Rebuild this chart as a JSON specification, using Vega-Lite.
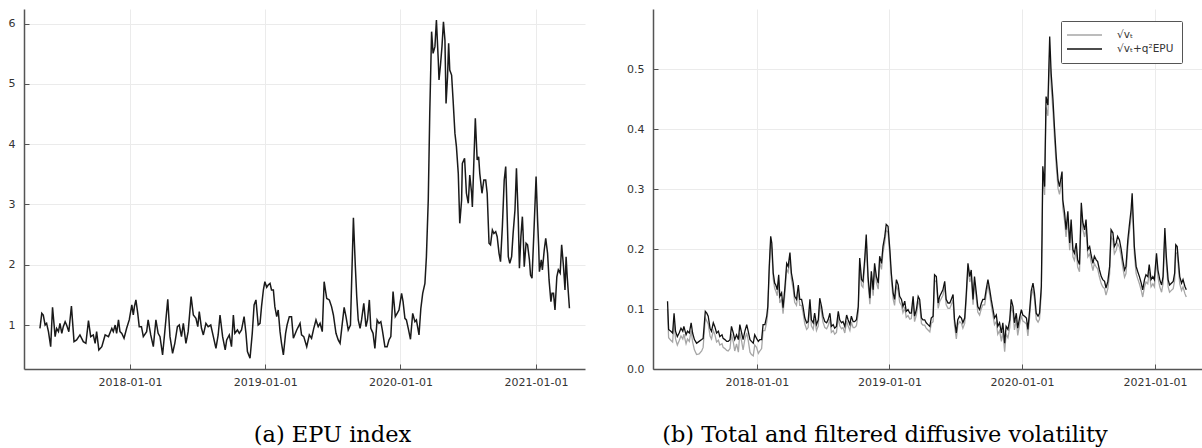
{
  "$schema": "https://vega.github.io/schema/vega-lite/v6.json",
  "background": "white",
  "padding": {"left": 8, "top": 9, "right": 0, "bottom": 0},
  "spacing": 41,
  "config": {
    "view": {"stroke": null},
    "axis": {
      "labelFont": "DejaVu Sans", "labelFontSize": 11, "labelColor": "#333333",
      "domainColor": "#555555", "domainWidth": 1.5,
      "gridColor": "#ebebeb", "gridWidth": 1,
      "tickColor": "#555555", "tickSize": -5, "tickWidth": 1,
      "title": null
    },
    "axisX": {"labelPadding": 12},
    "axisY": {"labelPadding": 14},
    "title": {"font": "DejaVu Serif", "fontSize": 22.5, "fontWeight": "normal", "color": "#000000", "orient": "bottom", "anchor": "middle", "offset": 37}
  },
  "hconcat": [
    {
      "width": 561, "height": 360,
      "title": {"text": "(a) EPU index", "dx": 28},
      "data": {"format": {"parse": {"d": "date:'%Y-%j'"}}, "values": [
        {"d":"2017-123","v":0.945},{"d":"2017-128","v":1.194},{"d":"2017-132","v":1.166},{"d":"2017-137","v":1.0},{"d":"2017-141","v":1.028},{"d":"2017-146","v":0.89},{"d":"2017-152","v":0.641},{"d":"2017-157","v":1.294},{"d":"2017-164","v":0.807},{"d":"2017-168","v":0.945},{"d":"2017-173","v":0.89},{"d":"2017-177","v":1.028},{"d":"2017-182","v":0.862},{"d":"2017-186","v":0.973},{"d":"2017-191","v":1.056},{"d":"2017-195","v":1.0},{"d":"2017-201","v":0.89},{"d":"2017-208","v":1.316},{"d":"2017-215","v":0.724},{"d":"2017-222","v":0.752},{"d":"2017-231","v":0.835},{"d":"2017-240","v":0.724},{"d":"2017-247","v":0.696},{"d":"2017-254","v":1.072},{"d":"2017-260","v":0.807},{"d":"2017-267","v":0.835},{"d":"2017-272","v":0.696},{"d":"2017-276","v":0.89},{"d":"2017-282","v":0.586},{"d":"2017-290","v":0.641},{"d":"2017-299","v":0.835},{"d":"2017-308","v":0.807},{"d":"2017-317","v":0.945},{"d":"2017-321","v":0.89},{"d":"2017-326","v":1.0},{"d":"2017-330","v":0.862},{"d":"2017-335","v":1.084},{"d":"2017-339","v":0.89},{"d":"2017-344","v":0.862},{"d":"2017-350","v":0.78},{"d":"2017-357","v":0.945},{"d":"2017-364","v":1.084},
        {"d":"2018-006","v":1.333},{"d":"2018-010","v":1.166},{"d":"2018-013","v":1.305},{"d":"2018-017","v":1.416},{"d":"2018-022","v":1.194},{"d":"2018-026","v":0.973},{"d":"2018-032","v":0.973},{"d":"2018-037","v":0.807},{"d":"2018-046","v":0.89},{"d":"2018-050","v":1.084},{"d":"2018-057","v":0.835},{"d":"2018-064","v":0.641},{"d":"2018-071","v":1.084},{"d":"2018-077","v":0.862},{"d":"2018-082","v":0.807},{"d":"2018-089","v":0.503},{"d":"2018-095","v":0.89},{"d":"2018-103","v":1.427},{"d":"2018-109","v":0.807},{"d":"2018-116","v":0.531},{"d":"2018-122","v":0.696},{"d":"2018-129","v":0.973},{"d":"2018-134","v":1.0},{"d":"2018-140","v":0.807},{"d":"2018-145","v":1.028},{"d":"2018-152","v":0.696},{"d":"2018-158","v":0.89},{"d":"2018-166","v":1.471},{"d":"2018-172","v":1.166},{"d":"2018-179","v":1.111},{"d":"2018-184","v":0.973},{"d":"2018-188","v":1.222},{"d":"2018-194","v":0.945},{"d":"2018-199","v":0.835},{"d":"2018-206","v":1.028},{"d":"2018-212","v":0.973},{"d":"2018-219","v":1.0},{"d":"2018-226","v":0.807},{"d":"2018-233","v":0.613},{"d":"2018-239","v":0.835},{"d":"2018-244","v":1.166},{"d":"2018-251","v":0.807},{"d":"2018-258","v":0.586},{"d":"2018-262","v":0.752},{"d":"2018-269","v":0.835},{"d":"2018-275","v":0.641},{"d":"2018-280","v":1.166},{"d":"2018-284","v":0.862},{"d":"2018-291","v":0.918},{"d":"2018-296","v":0.862},{"d":"2018-302","v":0.918},{"d":"2018-309","v":1.139},{"d":"2018-314","v":0.862},{"d":"2018-318","v":0.558},{"d":"2018-325","v":0.448},{"d":"2018-331","v":0.862},{"d":"2018-336","v":1.333},{"d":"2018-341","v":1.416},{"d":"2018-347","v":1.0},{"d":"2018-352","v":1.028},{"d":"2018-356","v":1.305},{"d":"2018-361","v":1.581},{"d":"2018-365","v":1.719},
        {"d":"2019-005","v":1.626},{"d":"2019-009","v":1.664},{"d":"2019-014","v":1.692},{"d":"2019-018","v":1.581},{"d":"2019-023","v":1.581},{"d":"2019-027","v":1.305},{"d":"2019-032","v":1.139},{"d":"2019-036","v":1.249},{"d":"2019-041","v":0.89},{"d":"2019-045","v":0.696},{"d":"2019-050","v":0.503},{"d":"2019-056","v":0.862},{"d":"2019-060","v":1.0},{"d":"2019-066","v":1.139},{"d":"2019-072","v":1.139},{"d":"2019-077","v":0.78},{"d":"2019-086","v":0.918},{"d":"2019-095","v":1.028},{"d":"2019-099","v":0.835},{"d":"2019-105","v":0.807},{"d":"2019-113","v":0.641},{"d":"2019-120","v":0.835},{"d":"2019-126","v":0.78},{"d":"2019-132","v":0.945},{"d":"2019-138","v":1.084},{"d":"2019-144","v":0.973},{"d":"2019-149","v":1.028},{"d":"2019-155","v":0.89},{"d":"2019-160","v":1.719},{"d":"2019-167","v":1.44},{"d":"2019-174","v":1.416},{"d":"2019-180","v":1.305},{"d":"2019-185","v":1.166},{"d":"2019-192","v":0.862},{"d":"2019-198","v":0.752},{"d":"2019-203","v":0.696},{"d":"2019-209","v":1.028},{"d":"2019-214","v":1.294},{"d":"2019-219","v":1.139},{"d":"2019-225","v":0.918},{"d":"2019-231","v":1.0},{"d":"2019-239","v":2.78},{"d":"2019-244","v":2.0},{"d":"2019-248","v":1.47},{"d":"2019-252","v":1.084},{"d":"2019-257","v":0.945},{"d":"2019-261","v":1.084},{"d":"2019-267","v":1.36},{"d":"2019-273","v":0.973},{"d":"2019-277","v":1.084},{"d":"2019-282","v":1.416},{"d":"2019-286","v":0.945},{"d":"2019-292","v":0.862},{"d":"2019-297","v":0.613},{"d":"2019-303","v":1.084},{"d":"2019-308","v":1.028},{"d":"2019-313","v":1.056},{"d":"2019-317","v":0.918},{"d":"2019-324","v":0.641},{"d":"2019-330","v":0.641},{"d":"2019-335","v":0.752},{"d":"2019-340","v":0.807},{"d":"2019-346","v":1.554},{"d":"2019-352","v":1.139},{"d":"2019-357","v":1.194},{"d":"2019-362","v":1.249},
        {"d":"2020-004","v":1.526},{"d":"2020-008","v":1.388},{"d":"2020-013","v":1.111},{"d":"2020-017","v":1.084},{"d":"2020-022","v":0.945},{"d":"2020-028","v":0.763},{"d":"2020-034","v":1.194},{"d":"2020-040","v":1.056},{"d":"2020-044","v":1.084},{"d":"2020-051","v":0.835},{"d":"2020-056","v":1.277},{"d":"2020-061","v":1.526},{"d":"2020-067","v":1.692},{"d":"2020-071","v":2.134},{"d":"2020-076","v":3.074},{"d":"2020-080","v":4.5},{"d":"2020-085","v":5.868},{"d":"2020-089","v":5.508},{"d":"2020-094","v":5.619},{"d":"2020-098","v":6.061},{"d":"2020-103","v":5.397},{"d":"2020-105","v":5.065},{"d":"2020-109","v":5.315},{"d":"2020-113","v":5.619},{"d":"2020-117","v":6.033},{"d":"2020-121","v":5.729},{"d":"2020-124","v":4.678},{"d":"2020-128","v":5.12},{"d":"2020-131","v":5.674},{"d":"2020-134","v":5.231},{"d":"2020-139","v":5.148},{"d":"2020-143","v":4.733},{"d":"2020-148","v":4.18},{"d":"2020-152","v":3.96},{"d":"2020-157","v":3.517},{"d":"2020-161","v":2.687},{"d":"2020-166","v":3.074},{"d":"2020-168","v":3.683},{"d":"2020-174","v":3.766},{"d":"2020-179","v":3.186},{"d":"2020-184","v":3.02},{"d":"2020-188","v":3.49},{"d":"2020-193","v":3.186},{"d":"2020-195","v":2.96},{"d":"2020-199","v":3.7},{"d":"2020-203","v":4.43},{"d":"2020-208","v":3.738},{"d":"2020-212","v":3.793},{"d":"2020-215","v":3.517},{"d":"2020-221","v":3.186},{"d":"2020-226","v":3.407},{"d":"2020-231","v":3.407},{"d":"2020-235","v":3.186},{"d":"2020-240","v":2.356},{"d":"2020-244","v":2.33},{"d":"2020-249","v":2.577},{"d":"2020-253","v":2.52},{"d":"2020-258","v":2.55},{"d":"2020-262","v":2.466},{"d":"2020-267","v":2.19},{"d":"2020-271","v":2.052},{"d":"2020-276","v":2.632},{"d":"2020-281","v":3.407},{"d":"2020-285","v":3.628},{"d":"2020-287","v":3.24},{"d":"2020-292","v":2.134},{"d":"2020-296","v":2.024},{"d":"2020-301","v":2.134},{"d":"2020-305","v":2.52},{"d":"2020-310","v":2.909},{"d":"2020-314","v":3.6},{"d":"2020-319","v":2.743},{"d":"2020-322","v":1.941},{"d":"2020-326","v":2.466},{"d":"2020-330","v":2.798},{"d":"2020-332","v":2.52},{"d":"2020-335","v":1.969},{"d":"2020-340","v":2.356},{"d":"2020-344","v":2.33},{"d":"2020-349","v":2.08},{"d":"2020-352","v":1.83},{"d":"2020-356","v":1.775},{"d":"2020-361","v":2.52},
        {"d":"2021-001","v":3.462},{"d":"2021-005","v":2.743},{"d":"2021-008","v":2.3},{"d":"2021-010","v":1.886},{"d":"2021-015","v":2.08},{"d":"2021-018","v":1.914},{"d":"2021-023","v":2.245},{"d":"2021-027","v":2.44},{"d":"2021-032","v":2.19},{"d":"2021-036","v":1.748},{"d":"2021-041","v":1.388},{"d":"2021-044","v":1.526},{"d":"2021-048","v":1.526},{"d":"2021-052","v":1.25},{"d":"2021-057","v":1.8},{"d":"2021-061","v":1.914},{"d":"2021-066","v":1.86},{"d":"2021-070","v":2.33},{"d":"2021-075","v":1.969},{"d":"2021-079","v":1.58},{"d":"2021-082","v":2.134},{"d":"2021-085","v":1.8},{"d":"2021-091","v":1.277}
      ]},
      "mark": {"type": "line", "color": "#1a1a1a", "strokeWidth": 1.5},
      "encoding": {
        "x": {"field": "d", "type": "temporal",
              "scale": {"domain": [{"year": 2017, "month": 3, "date": 21}, {"year": 2021, "month": 5, "date": 13}], "nice": false},
              "axis": {"format": "%Y-%m-%d", "values": [{"year": 2018, "month": 1, "date": 1}, {"year": 2019, "month": 1, "date": 1}, {"year": 2020, "month": 1, "date": 1}, {"year": 2021, "month": 1, "date": 1}], "labelAngle": 0}},
        "y": {"field": "v", "type": "quantitative",
              "scale": {"domain": [0.27, 6.244], "nice": false, "zero": false},
              "axis": {"values": [1, 2, 3, 4, 5, 6], "format": "d"}}
      }
    },
    {
      "width": 550, "height": 360,
      "title": {"text": "(b) Total and filtered diffusive volatility", "dx": -43},
      "data": {"format": {"parse": {"d": "date:'%Y-%j'"}}, "values": [
        {"d":"2017-120","s":0.100,"t":0.113},{"d":"2017-123","s":0.052,"t":0.066},{"d":"2017-129","s":0.048,"t":0.063},{"d":"2017-134","s":0.045,"t":0.060},{"d":"2017-138","s":0.080,"t":0.093},{"d":"2017-142","s":0.050,"t":0.063},{"d":"2017-147","s":0.040,"t":0.054},{"d":"2017-152","s":0.047,"t":0.060},{"d":"2017-157","s":0.055,"t":0.068},{"d":"2017-162","s":0.050,"t":0.063},{"d":"2017-165","s":0.058,"t":0.071},{"d":"2017-171","s":0.042,"t":0.057},{"d":"2017-175","s":0.050,"t":0.063},{"d":"2017-180","s":0.046,"t":0.060},{"d":"2017-185","s":0.064,"t":0.077},{"d":"2017-189","s":0.045,"t":0.060},{"d":"2017-194","s":0.032,"t":0.049},{"d":"2017-200","s":0.024,"t":0.043},{"d":"2017-207","s":0.025,"t":0.046},{"d":"2017-214","s":0.030,"t":0.049},{"d":"2017-218","s":0.036,"t":0.051},{"d":"2017-224","s":0.085,"t":0.096},{"d":"2017-228","s":0.080,"t":0.093},{"d":"2017-232","s":0.075,"t":0.088},{"d":"2017-237","s":0.055,"t":0.068},{"d":"2017-241","s":0.050,"t":0.063},{"d":"2017-246","s":0.064,"t":0.077},{"d":"2017-250","s":0.058,"t":0.071},{"d":"2017-255","s":0.045,"t":0.060},{"d":"2017-260","s":0.048,"t":0.063},{"d":"2017-264","s":0.040,"t":0.054},{"d":"2017-270","s":0.042,"t":0.057},{"d":"2017-273","s":0.036,"t":0.051},{"d":"2017-278","s":0.034,"t":0.049},{"d":"2017-283","s":0.031,"t":0.046},{"d":"2017-287","s":0.030,"t":0.046},{"d":"2017-292","s":0.034,"t":0.049},{"d":"2017-296","s":0.058,"t":0.071},{"d":"2017-301","s":0.045,"t":0.060},{"d":"2017-305","s":0.030,"t":0.049},{"d":"2017-310","s":0.042,"t":0.057},{"d":"2017-315","s":0.028,"t":0.049},{"d":"2017-319","s":0.060,"t":0.074},{"d":"2017-324","s":0.046,"t":0.060},{"d":"2017-328","s":0.032,"t":0.049},{"d":"2017-333","s":0.050,"t":0.063},{"d":"2017-338","s":0.060,"t":0.074},{"d":"2017-342","s":0.048,"t":0.063},{"d":"2017-347","s":0.028,"t":0.049},{"d":"2017-351","s":0.024,"t":0.046},{"d":"2017-356","s":0.022,"t":0.043},{"d":"2017-360","s":0.040,"t":0.057},{"d":"2017-365","s":0.036,"t":0.051},
        {"d":"2018-005","s":0.026,"t":0.046},{"d":"2018-009","s":0.030,"t":0.049},{"d":"2018-014","s":0.034,"t":0.049},{"d":"2018-018","s":0.064,"t":0.074},{"d":"2018-023","s":0.064,"t":0.074},{"d":"2018-028","s":0.078,"t":0.088},{"d":"2018-031","s":0.095,"t":0.104},{"d":"2018-035","s":0.162,"t":0.171},{"d":"2018-039","s":0.212,"t":0.221},{"d":"2018-042","s":0.200,"t":0.210},{"d":"2018-046","s":0.150,"t":0.160},{"d":"2018-050","s":0.134,"t":0.143},{"d":"2018-053","s":0.130,"t":0.140},{"d":"2018-057","s":0.122,"t":0.132},{"d":"2018-061","s":0.148,"t":0.157},{"d":"2018-064","s":0.110,"t":0.121},{"d":"2018-069","s":0.117,"t":0.127},{"d":"2018-073","s":0.092,"t":0.102},{"d":"2018-078","s":0.125,"t":0.135},{"d":"2018-083","s":0.166,"t":0.176},{"d":"2018-087","s":0.161,"t":0.171},{"d":"2018-092","s":0.183,"t":0.194},{"d":"2018-096","s":0.150,"t":0.160},{"d":"2018-101","s":0.133,"t":0.143},{"d":"2018-105","s":0.111,"t":0.121},{"d":"2018-110","s":0.106,"t":0.116},{"d":"2018-115","s":0.130,"t":0.140},{"d":"2018-119","s":0.106,"t":0.116},{"d":"2018-124","s":0.106,"t":0.116},{"d":"2018-128","s":0.094,"t":0.104},{"d":"2018-133","s":0.075,"t":0.085},{"d":"2018-138","s":0.066,"t":0.077},{"d":"2018-142","s":0.069,"t":0.079},{"d":"2018-147","s":0.106,"t":0.116},{"d":"2018-151","s":0.072,"t":0.082},{"d":"2018-156","s":0.066,"t":0.077},{"d":"2018-160","s":0.083,"t":0.093},{"d":"2018-165","s":0.064,"t":0.074},{"d":"2018-170","s":0.072,"t":0.082},{"d":"2018-174","s":0.108,"t":0.118},{"d":"2018-179","s":0.094,"t":0.104},{"d":"2018-183","s":0.078,"t":0.088},{"d":"2018-188","s":0.069,"t":0.079},{"d":"2018-193","s":0.067,"t":0.077},{"d":"2018-197","s":0.072,"t":0.082},{"d":"2018-202","s":0.083,"t":0.093},{"d":"2018-206","s":0.061,"t":0.071},{"d":"2018-211","s":0.064,"t":0.074},{"d":"2018-215","s":0.058,"t":0.068},{"d":"2018-220","s":0.061,"t":0.071},{"d":"2018-225","s":0.086,"t":0.096},{"d":"2018-229","s":0.072,"t":0.082},{"d":"2018-234","s":0.067,"t":0.077},{"d":"2018-238","s":0.069,"t":0.079},{"d":"2018-243","s":0.060,"t":0.071},{"d":"2018-248","s":0.080,"t":0.090},{"d":"2018-252","s":0.072,"t":0.082},{"d":"2018-257","s":0.064,"t":0.074},{"d":"2018-261","s":0.078,"t":0.088},{"d":"2018-266","s":0.069,"t":0.079},{"d":"2018-270","s":0.069,"t":0.079},{"d":"2018-275","s":0.072,"t":0.082},{"d":"2018-280","s":0.094,"t":0.104},{"d":"2018-284","s":0.175,"t":0.185},{"d":"2018-289","s":0.139,"t":0.149},{"d":"2018-293","s":0.136,"t":0.146},{"d":"2018-298","s":0.175,"t":0.185},{"d":"2018-302","s":0.214,"t":0.224},{"d":"2018-307","s":0.144,"t":0.154},{"d":"2018-312","s":0.108,"t":0.118},{"d":"2018-316","s":0.153,"t":0.163},{"d":"2018-321","s":0.122,"t":0.132},{"d":"2018-325","s":0.166,"t":0.176},{"d":"2018-330","s":0.144,"t":0.154},{"d":"2018-335","s":0.133,"t":0.143},{"d":"2018-339","s":0.178,"t":0.188},{"d":"2018-344","s":0.166,"t":0.176},{"d":"2018-348","s":0.194,"t":0.204},{"d":"2018-353","s":0.211,"t":0.221},{"d":"2018-357","s":0.231,"t":0.241},{"d":"2018-362","s":0.228,"t":0.238},
        {"d":"2019-002","s":0.189,"t":0.199},{"d":"2019-006","s":0.150,"t":0.160},{"d":"2019-011","s":0.117,"t":0.127},{"d":"2019-015","s":0.106,"t":0.116},{"d":"2019-020","s":0.139,"t":0.149},{"d":"2019-025","s":0.130,"t":0.140},{"d":"2019-029","s":0.111,"t":0.121},{"d":"2019-034","s":0.106,"t":0.116},{"d":"2019-038","s":0.094,"t":0.104},{"d":"2019-043","s":0.103,"t":0.113},{"d":"2019-047","s":0.086,"t":0.096},{"d":"2019-052","s":0.089,"t":0.099},{"d":"2019-057","s":0.083,"t":0.093},{"d":"2019-061","s":0.084,"t":0.093},{"d":"2019-066","s":0.112,"t":0.121},{"d":"2019-070","s":0.079,"t":0.088},{"d":"2019-075","s":0.090,"t":0.099},{"d":"2019-080","s":0.112,"t":0.121},{"d":"2019-084","s":0.107,"t":0.116},{"d":"2019-089","s":0.076,"t":0.085},{"d":"2019-093","s":0.073,"t":0.082},{"d":"2019-098","s":0.073,"t":0.082},{"d":"2019-102","s":0.068,"t":0.077},{"d":"2019-107","s":0.065,"t":0.074},{"d":"2019-112","s":0.062,"t":0.071},{"d":"2019-116","s":0.076,"t":0.085},{"d":"2019-121","s":0.079,"t":0.088},{"d":"2019-125","s":0.148,"t":0.157},{"d":"2019-130","s":0.145,"t":0.154},{"d":"2019-135","s":0.101,"t":0.110},{"d":"2019-139","s":0.112,"t":0.121},{"d":"2019-144","s":0.118,"t":0.127},{"d":"2019-148","s":0.123,"t":0.132},{"d":"2019-153","s":0.137,"t":0.146},{"d":"2019-157","s":0.107,"t":0.116},{"d":"2019-162","s":0.101,"t":0.110},{"d":"2019-167","s":0.101,"t":0.110},{"d":"2019-171","s":0.107,"t":0.116},{"d":"2019-176","s":0.115,"t":0.124},{"d":"2019-180","s":0.073,"t":0.082},{"d":"2019-185","s":0.050,"t":0.060},{"d":"2019-189","s":0.073,"t":0.082},{"d":"2019-194","s":0.079,"t":0.088},{"d":"2019-199","s":0.076,"t":0.085},{"d":"2019-203","s":0.068,"t":0.077},{"d":"2019-208","s":0.076,"t":0.085},{"d":"2019-212","s":0.112,"t":0.121},{"d":"2019-217","s":0.167,"t":0.176},{"d":"2019-222","s":0.145,"t":0.154},{"d":"2019-226","s":0.156,"t":0.165},{"d":"2019-231","s":0.107,"t":0.116},{"d":"2019-235","s":0.145,"t":0.154},{"d":"2019-240","s":0.118,"t":0.127},{"d":"2019-244","s":0.095,"t":0.104},{"d":"2019-249","s":0.090,"t":0.099},{"d":"2019-254","s":0.101,"t":0.110},{"d":"2019-258","s":0.107,"t":0.116},{"d":"2019-263","s":0.107,"t":0.116},{"d":"2019-267","s":0.123,"t":0.132},{"d":"2019-272","s":0.140,"t":0.149},{"d":"2019-277","s":0.123,"t":0.132},{"d":"2019-281","s":0.107,"t":0.116},{"d":"2019-286","s":0.089,"t":0.099},{"d":"2019-290","s":0.074,"t":0.085},{"d":"2019-295","s":0.079,"t":0.090},{"d":"2019-299","s":0.058,"t":0.071},{"d":"2019-304","s":0.064,"t":0.077},{"d":"2019-309","s":0.046,"t":0.060},{"d":"2019-313","s":0.063,"t":0.077},{"d":"2019-318","s":0.029,"t":0.043},{"d":"2019-322","s":0.058,"t":0.071},{"d":"2019-327","s":0.052,"t":0.066},{"d":"2019-332","s":0.069,"t":0.082},{"d":"2019-336","s":0.105,"t":0.116},{"d":"2019-341","s":0.093,"t":0.104},{"d":"2019-345","s":0.065,"t":0.077},{"d":"2019-350","s":0.082,"t":0.093},{"d":"2019-354","s":0.056,"t":0.068},{"d":"2019-359","s":0.074,"t":0.085},{"d":"2019-364","s":0.089,"t":0.099},
        {"d":"2020-003","s":0.080,"t":0.090},{"d":"2020-008","s":0.078,"t":0.088},{"d":"2020-013","s":0.075,"t":0.085},{"d":"2020-017","s":0.055,"t":0.066},{"d":"2020-022","s":0.089,"t":0.099},{"d":"2020-026","s":0.120,"t":0.130},{"d":"2020-031","s":0.133,"t":0.143},{"d":"2020-035","s":0.117,"t":0.127},{"d":"2020-040","s":0.083,"t":0.093},{"d":"2020-045","s":0.078,"t":0.088},{"d":"2020-049","s":0.083,"t":0.093},{"d":"2020-054","s":0.127,"t":0.138},{"d":"2020-056","s":0.214,"t":0.227},{"d":"2020-058","s":0.322,"t":0.338},{"d":"2020-063","s":0.290,"t":0.304},{"d":"2020-067","s":0.436,"t":0.454},{"d":"2020-072","s":0.422,"t":0.440},{"d":"2020-077","s":0.530,"t":0.554},{"d":"2020-081","s":0.472,"t":0.493},{"d":"2020-086","s":0.430,"t":0.449},{"d":"2020-090","s":0.387,"t":0.404},{"d":"2020-095","s":0.339,"t":0.354},{"d":"2020-100","s":0.301,"t":0.315},{"d":"2020-104","s":0.291,"t":0.304},{"d":"2020-111","s":0.315,"t":0.329},{"d":"2020-113","s":0.269,"t":0.282},{"d":"2020-118","s":0.247,"t":0.260},{"d":"2020-122","s":0.220,"t":0.232},{"d":"2020-127","s":0.250,"t":0.263},{"d":"2020-132","s":0.198,"t":0.210},{"d":"2020-136","s":0.237,"t":0.249},{"d":"2020-141","s":0.187,"t":0.199},{"d":"2020-145","s":0.181,"t":0.193},{"d":"2020-150","s":0.198,"t":0.210},{"d":"2020-154","s":0.170,"t":0.182},{"d":"2020-159","s":0.162,"t":0.174},{"d":"2020-164","s":0.264,"t":0.277},{"d":"2020-168","s":0.233,"t":0.245},{"d":"2020-173","s":0.220,"t":0.232},{"d":"2020-177","s":0.237,"t":0.249},{"d":"2020-182","s":0.187,"t":0.199},{"d":"2020-187","s":0.192,"t":0.204},{"d":"2020-191","s":0.178,"t":0.190},{"d":"2020-196","s":0.164,"t":0.176},{"d":"2020-200","s":0.176,"t":0.188},{"d":"2020-205","s":0.170,"t":0.182},{"d":"2020-209","s":0.167,"t":0.179},{"d":"2020-214","s":0.153,"t":0.165},{"d":"2020-219","s":0.142,"t":0.154},{"d":"2020-223","s":0.137,"t":0.149},{"d":"2020-228","s":0.134,"t":0.146},{"d":"2020-232","s":0.123,"t":0.135},{"d":"2020-237","s":0.134,"t":0.146},{"d":"2020-242","s":0.159,"t":0.171},{"d":"2020-246","s":0.220,"t":0.232},{"d":"2020-251","s":0.215,"t":0.227},{"d":"2020-255","s":0.192,"t":0.204},{"d":"2020-260","s":0.198,"t":0.210},{"d":"2020-264","s":0.209,"t":0.221},{"d":"2020-269","s":0.203,"t":0.215},{"d":"2020-274","s":0.187,"t":0.199},{"d":"2020-278","s":0.170,"t":0.182},{"d":"2020-283","s":0.153,"t":0.165},{"d":"2020-287","s":0.159,"t":0.171},{"d":"2020-292","s":0.203,"t":0.215},{"d":"2020-296","s":0.226,"t":0.238},{"d":"2020-301","s":0.252,"t":0.265},{"d":"2020-304","s":0.280,"t":0.293},{"d":"2020-307","s":0.237,"t":0.249},{"d":"2020-310","s":0.192,"t":0.204},{"d":"2020-315","s":0.159,"t":0.171},{"d":"2020-319","s":0.151,"t":0.163},{"d":"2020-324","s":0.142,"t":0.154},{"d":"2020-329","s":0.131,"t":0.143},{"d":"2020-333","s":0.120,"t":0.132},{"d":"2020-338","s":0.137,"t":0.149},{"d":"2020-342","s":0.145,"t":0.157},{"d":"2020-347","s":0.142,"t":0.154},{"d":"2020-351","s":0.162,"t":0.174},{"d":"2020-356","s":0.137,"t":0.149},{"d":"2020-361","s":0.142,"t":0.154},{"d":"2020-365","s":0.137,"t":0.149},
        {"d":"2021-005","s":0.181,"t":0.193},{"d":"2021-009","s":0.153,"t":0.165},{"d":"2021-014","s":0.137,"t":0.149},{"d":"2021-019","s":0.128,"t":0.140},{"d":"2021-023","s":0.142,"t":0.154},{"d":"2021-028","s":0.222,"t":0.235},{"d":"2021-032","s":0.176,"t":0.188},{"d":"2021-037","s":0.137,"t":0.149},{"d":"2021-041","s":0.128,"t":0.140},{"d":"2021-046","s":0.131,"t":0.143},{"d":"2021-051","s":0.134,"t":0.146},{"d":"2021-055","s":0.148,"t":0.160},{"d":"2021-058","s":0.194,"t":0.207},{"d":"2021-062","s":0.192,"t":0.204},{"d":"2021-065","s":0.170,"t":0.182},{"d":"2021-069","s":0.142,"t":0.154},{"d":"2021-074","s":0.131,"t":0.143},{"d":"2021-078","s":0.137,"t":0.149},{"d":"2021-083","s":0.126,"t":0.138},{"d":"2021-087","s":0.120,"t":0.132}
      ]},
      "encoding": {
        "x": {"field": "d", "type": "temporal",
              "scale": {"domain": [{"year": 2017, "month": 3, "date": 21}, {"year": 2021, "month": 5, "date": 13}], "nice": false},
              "axis": {"format": "%Y-%m-%d", "values": [{"year": 2018, "month": 1, "date": 1}, {"year": 2019, "month": 1, "date": 1}, {"year": 2020, "month": 1, "date": 1}, {"year": 2021, "month": 1, "date": 1}], "labelAngle": 0}}
      },
      "layer": [
        {
          "mark": {"type": "line", "strokeWidth": 1.3},
          "encoding": {
            "y": {"field": "s", "type": "quantitative",
                  "scale": {"domain": [0, 0.6], "nice": false, "zero": false},
                  "axis": {"values": [0, 0.1, 0.2, 0.3, 0.4, 0.5], "format": ".1f"}},
            "color": {"datum": "√vₜ", "type": "nominal",
                      "scale": {"domain": ["√vₜ", "√vₜ+q²EPU"], "range": ["#a6a6a6", "#111111"]},
                      "legend": {"orient": "none", "legendX": 1037, "legendY": 12, "title": null,
                                 "symbolType": "M-1.6,0H5.4", "symbolSize": 100, "symbolStrokeWidth": 1.5,
                                 "labelFont": "DejaVu Sans", "labelFontSize": 10.5, "labelColor": "#333333",
                                 "labelOffset": 36, "rowPadding": 2, "padding": 8,
                                 "strokeColor": "#555555", "fillColor": "#ffffff", "cornerRadius": 1}}
          }
        },
        {
          "mark": {"type": "line", "strokeWidth": 1.3},
          "encoding": {
            "y": {"field": "t", "type": "quantitative",
                  "axis": {"values": [0, 0.1, 0.2, 0.3, 0.4, 0.5], "format": ".1f"}},
            "color": {"datum": "√vₜ+q²EPU", "type": "nominal"}
          }
        }
      ]
    }
  ]
}
